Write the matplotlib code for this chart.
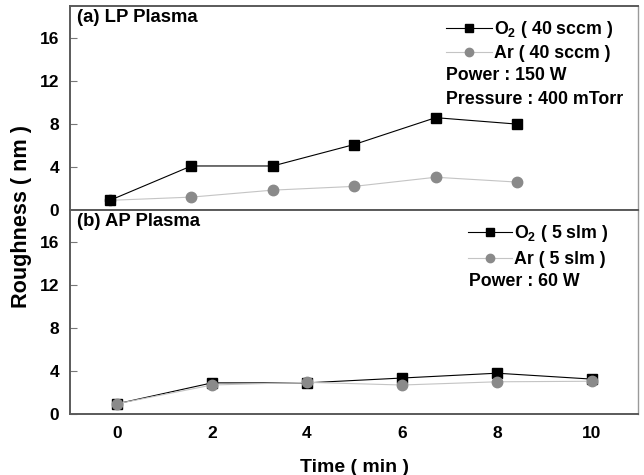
import matplotlib
matplotlib.use("Agg")
import matplotlib.pyplot as plt

plt.rcParams["font.family"] = ["Liberation Sans", "DejaVu Sans"]
plt.rcParams["font.weight"] = "bold"
plt.rcParams["mathtext.fontset"] = "custom"
plt.rcParams["mathtext.rm"] = "Liberation Sans:bold"
plt.rcParams["mathtext.it"] = "Liberation Sans:bold"
plt.rcParams["mathtext.bf"] = "Liberation Sans:bold"

# ---- data
lp_time = [0, 2, 4, 6, 8, 10]          # LP panel uses its own (untitled) x scale
lp_o2 = [0.9, 4.1, 4.1, 6.1, 8.6, 8.0]
lp_ar = [0.9, 1.2, 1.85, 2.2, 3.05, 2.6]

ap_time = [0, 2, 4, 6, 8, 10]
ap_o2 = [0.95, 2.9, 2.9, 3.35, 3.8, 3.25]
ap_ar = [0.95, 2.7, 2.95, 2.7, 3.0, 3.05]

yticks = [0, 4, 8, 12, 16]
xticks = [0, 2, 4, 6, 8, 10]

W, H = 644, 475
fig = plt.figure(figsize=(W / 100, H / 100), dpi=100)

def fx(px):
    return px / W

def fy(py):
    return 1 - py / H

ax_top = fig.add_axes([fx(70), fy(210), fx(638) - fx(70), fy(6) - fy(210)])
ax_bot = fig.add_axes([fx(70), fy(414), fx(638) - fx(70), fy(210) - fy(414)])

O2_STYLE = dict(color="black", lw=0.8, marker="s", ms=6.5, mfc="black", mec="black")
AR_STYLE = dict(color="#c4c4c4", lw=0.8, marker="o", ms=7.5, mfc="#8a8a8a", mec="#8a8a8a")

ax_top.plot(lp_time, lp_ar, label="Ar ( 40 sccm )", zorder=2, **AR_STYLE)
ax_top.plot(lp_time, lp_o2, label="O$_2$ ( 40 sccm )", zorder=3, **O2_STYLE)
ax_bot.plot(ap_time, ap_o2, label="O$_2$ ( 5 slm )", zorder=2, **O2_STYLE)
ax_bot.plot(ap_time, ap_ar, label="Ar ( 5 slm )", zorder=3, **AR_STYLE)

ax_top.set_xlim(-0.98, 12.97)
ax_bot.set_xlim(-0.99, 10.97)

for ax in (ax_top, ax_bot):
    ax.set_ylim(0, 19)
    ax.set_yticks(yticks)
    ax.tick_params(axis="y", direction="in", length=5, width=0.8, color="#777777",
                   labelsize=12.5, pad=8)
    for s in ax.spines.values():
        s.set_color("#5a5a5a")
        s.set_linewidth(1.4)
    ax.spines["right"].set_color("#9a9a9a")
    ax.spines["right"].set_linewidth(1.0)

ax_top.set_xticks([])
ax_bot.set_xticks(xticks)
ax_bot.tick_params(axis="x", length=0, labelsize=12.5, pad=9)
for lab in ax_top.get_yticklabels() + ax_bot.get_yticklabels() + ax_bot.get_xticklabels():
    lab.set_fontweight("bold")

# panel titles
fig.text(fx(77), fy(18), "(a) LP Plasma", fontsize=13.3, fontweight="bold", va="center", ha="left")
fig.text(fx(77), fy(221), "(b) AP Plasma", fontsize=13.3, fontweight="bold", va="center", ha="left")

LEG_FONT = dict(weight="bold", size=12.8)

# legends
h, l = ax_top.get_legend_handles_labels()
ax_top.legend(h[::-1], l[::-1], loc="upper left", bbox_to_anchor=(fx(446), fy(19)),
              bbox_transform=fig.transFigure, frameon=False, borderpad=0,
              borderaxespad=0, handlelength=2.6, handletextpad=0.08,
              labelspacing=0.28, markerscale=0.8, prop=LEG_FONT)
fig.text(fx(446), fy(75), "Power : 150 W", fontsize=12.8, fontweight="bold", va="center")
fig.text(fx(446), fy(99), "Pressure : 400 mTorr", fontsize=12.8, fontweight="bold", va="center")

ax_bot.legend(loc="upper left", bbox_to_anchor=(fx(468), fy(223)),
              bbox_transform=fig.transFigure, frameon=False, borderpad=0,
              borderaxespad=0, handlelength=2.5, handletextpad=0.08,
              labelspacing=0.42, markerscale=0.8, prop=LEG_FONT)
fig.text(fx(469), fy(281), "Power : 60 W", fontsize=12.8, fontweight="bold", va="center")

fig.text(fx(22), fy(217), "Roughness ( nm )", rotation=90, fontsize=15.6,
         fontweight="bold", ha="center", va="center")
fig.text(fx(354), fy(467), "Time ( min )", fontsize=14, fontweight="bold",
         ha="center", va="center")

fig.savefig("out.png", dpi=100)
